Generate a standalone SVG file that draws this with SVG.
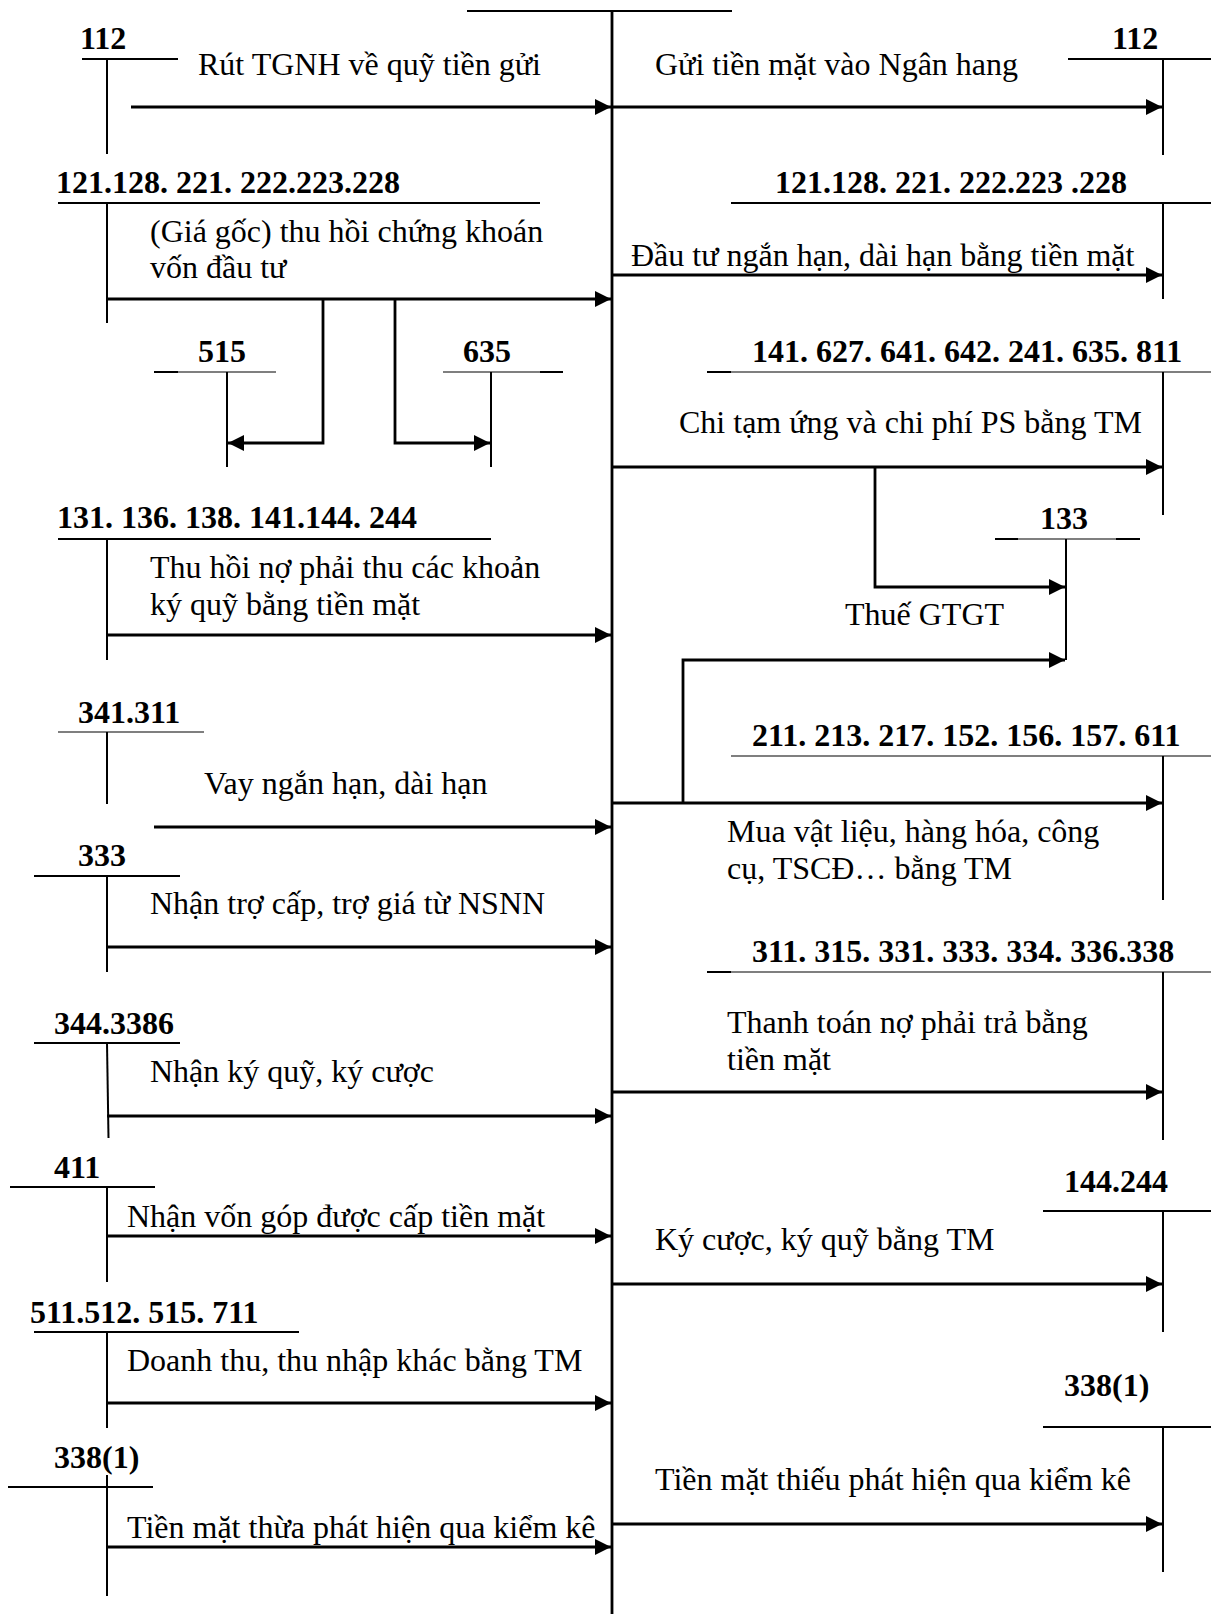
<svg xmlns="http://www.w3.org/2000/svg" width="1211" height="1614" viewBox="0 0 1211 1614">
<style>
text{font-family:"Liberation Serif","Times New Roman",serif;font-size:32px;fill:#000}
.num{font-weight:bold}
.ln{stroke:#000;stroke-width:2;fill:none}
.thin{stroke:#000;stroke-width:1.2;fill:none}
.thk{stroke:#000;stroke-width:2.8;fill:none}
.arr{stroke:#000;stroke-width:2.8;fill:none;marker-end:url(#ah)}
</style>
<defs>
<marker id="ah" markerUnits="userSpaceOnUse" markerWidth="17" markerHeight="16" refX="16" refY="8" orient="auto"><path d="M0,0 L16,8 L0,16 z" fill="#000"/></marker>
</defs>
<rect width="1211" height="1614" fill="#fff"/>

<g id="tk111">
<line class="ln" x1="467" y1="11" x2="732" y2="11"/>
<line class="thk" x1="612" y1="11" x2="612" y2="1614"/>
</g>

<g id="n112L"><text class="num" x="80" y="49">112</text><line class="ln" x1="82" y1="59" x2="178" y2="59"/><line class="ln" x1="107" y1="59" x2="107" y2="154"/></g>
<g id="n112R"><text class="num" x="1112" y="49">112</text><line class="ln" x1="1068" y1="59" x2="1211" y2="59"/><line class="ln" x1="1163" y1="59" x2="1163" y2="155"/></g>
<g id="n121L"><text class="num" x="56" y="193">121.128. 221. 222.223.228</text><line class="ln" x1="58" y1="203" x2="540" y2="203"/><line class="ln" x1="107" y1="203" x2="107" y2="323"/></g>
<g id="n121R"><text class="num" x="775" y="193">121.128. 221. 222.223 .228</text><line class="ln" x1="731" y1="203" x2="1211" y2="203"/><line class="ln" x1="1163" y1="203" x2="1163" y2="299"/></g>
<g id="n515"><text class="num" x="198" y="362">515</text><line class="thin" x1="154" y1="372" x2="276" y2="372"/><line class="ln" x1="154" y1="372" x2="178" y2="372"/><line class="ln" x1="227" y1="372" x2="227" y2="467"/></g>
<g id="n635"><text class="num" x="463" y="362">635</text><line class="thin" x1="443" y1="372" x2="563" y2="372"/><line class="ln" x1="540" y1="372" x2="563" y2="372"/><line class="ln" x1="491" y1="372" x2="491" y2="467"/></g>
<g id="n141R"><text class="num" x="752" y="362">141. 627. 641. 642. 241. 635. 811</text><line class="thin" x1="707" y1="372" x2="1211" y2="372"/><line class="ln" x1="707" y1="372" x2="731" y2="372"/><line class="ln" x1="1163" y1="372" x2="1163" y2="515"/></g>
<g id="n133"><text class="num" x="1040" y="529">133</text><line class="thin" x1="995" y1="539" x2="1140" y2="539"/><line class="ln" x1="995" y1="539" x2="1018" y2="539"/><line class="ln" x1="1116" y1="539" x2="1140" y2="539"/><line class="ln" x1="1066" y1="539" x2="1066" y2="660"/></g>
<g id="n131L"><text class="num" x="57" y="528">131. 136. 138. 141.144. 244</text><line class="ln" x1="58" y1="539" x2="491" y2="539"/><line class="ln" x1="107" y1="539" x2="107" y2="660"/></g>
<g id="n341L"><text class="num" x="78" y="723">341.311</text><line class="thin" x1="58" y1="732" x2="204" y2="732"/><line class="ln" x1="107" y1="732" x2="107" y2="804"/></g>
<g id="n211R"><text class="num" x="752" y="746">211. 213. 217. 152. 156. 157. 611</text><line class="thin" x1="731" y1="756" x2="1211" y2="756"/><line class="ln" x1="1163" y1="756" x2="1163" y2="900"/></g>
<g id="n333L"><text class="num" x="78" y="866">333</text><line class="ln" x1="34" y1="876" x2="180" y2="876"/><line class="ln" x1="107" y1="876" x2="107" y2="972"/></g>
<g id="n311R"><text class="num" x="752" y="962">311. 315. 331. 333. 334. 336.338</text><line class="thin" x1="707" y1="972" x2="1211" y2="972"/><line class="ln" x1="707" y1="972" x2="731" y2="972"/><line class="ln" x1="1163" y1="972" x2="1163" y2="1140"/></g>
<g id="n344L"><text class="num" x="54" y="1034">344.3386</text><line class="ln" x1="34" y1="1043" x2="180" y2="1043"/><line class="ln" x1="107" y1="1043" x2="108.5" y2="1138"/></g>
<g id="n411L"><text class="num" x="54" y="1178">411</text><line class="ln" x1="10" y1="1187" x2="155" y2="1187"/><line class="ln" x1="107" y1="1187" x2="107" y2="1282"/></g>
<g id="n144R"><text class="num" x="1064" y="1192">144.244</text><line class="ln" x1="1043" y1="1211" x2="1211" y2="1211"/><line class="ln" x1="1163" y1="1211" x2="1163" y2="1332"/></g>
<g id="n511L"><text class="num" x="30" y="1323">511.512. 515. 711</text><line class="ln" x1="34" y1="1332" x2="299" y2="1332"/><line class="ln" x1="107" y1="1332" x2="107" y2="1428"/></g>
<g id="n338R"><text class="num" x="1064" y="1396">338(1)</text><line class="ln" x1="1043" y1="1427" x2="1211" y2="1427"/><line class="ln" x1="1163" y1="1427" x2="1163" y2="1572"/></g>
<g id="n338L"><text class="num" x="54" y="1468">338(1)</text><line class="ln" x1="8" y1="1487" x2="153" y2="1487"/><line class="ln" x1="107" y1="1475" x2="107" y2="1596"/></g>

<g id="connectors">
<g><line class="arr" x1="131" y1="107" x2="611" y2="107"/><text x="198" y="75">Rút TGNH về quỹ tiền gửi</text></g>
<g><line class="arr" x1="612" y1="107" x2="1162" y2="107"/><text x="655" y="75">Gửi tiền mặt vào Ngân hang</text></g>
<g><line class="arr" x1="107" y1="299" x2="611" y2="299"/><text x="150" y="242">(Giá gốc) thu hồi chứng khoán</text><text x="150" y="278">vốn đầu tư</text></g>
<polyline class="arr" points="323,299 323,443 228,443"/>
<polyline class="arr" points="395,299 395,443 490,443"/>
<g><line class="arr" x1="612" y1="275" x2="1162" y2="275"/><text x="631" y="266">Đầu tư ngắn hạn, dài hạn bằng tiền mặt</text></g>
<g><line class="arr" x1="612" y1="467" x2="1162" y2="467"/><text x="679" y="433">Chi tạm ứng và chi phí PS bằng TM</text></g>
<polyline class="arr" points="875,467 875,587 1065,587"/>
<g><line class="arr" x1="107" y1="635" x2="611" y2="635"/><text x="150" y="578">Thu hồi nợ phải thu các khoản</text><text x="150" y="615">ký quỹ bằng tiền mặt</text></g>
<g><polyline class="arr" points="683,803 683,660 1065,660"/><text x="845" y="625">Thuế GTGT</text></g>
<g><line class="arr" x1="154" y1="827" x2="611" y2="827"/><text x="204" y="794">Vay ngắn hạn, dài hạn</text></g>
<g><line class="arr" x1="612" y1="803" x2="1162" y2="803"/><text x="727" y="842">Mua vật liệu, hàng hóa, công</text><text x="727" y="879">cụ, TSCĐ… bằng TM</text></g>
<g><line class="arr" x1="107" y1="947" x2="611" y2="947"/><text x="150" y="914">Nhận trợ cấp, trợ giá từ NSNN</text></g>
<g><line class="arr" x1="612" y1="1092" x2="1162" y2="1092"/><text x="727" y="1033">Thanh toán nợ phải trả bằng</text><text x="727" y="1070">tiền mặt</text></g>
<g><line class="arr" x1="107" y1="1116" x2="611" y2="1116"/><text x="150" y="1082">Nhận ký quỹ, ký cược</text></g>
<g><line class="arr" x1="107" y1="1236" x2="611" y2="1236"/><text x="127" y="1227">Nhận vốn góp được cấp tiền mặt</text></g>
<g><line class="arr" x1="612" y1="1284" x2="1162" y2="1284"/><text x="655" y="1250">Ký cược, ký quỹ bằng TM</text></g>
<g><line class="arr" x1="107" y1="1403" x2="611" y2="1403"/><text x="127" y="1371">Doanh thu, thu nhập khác bằng TM</text></g>
<g><line class="arr" x1="612" y1="1524" x2="1162" y2="1524"/><text x="655" y="1490">Tiền mặt thiếu phát hiện qua kiểm kê</text></g>
<g><line class="arr" x1="107" y1="1547" x2="611" y2="1547"/><text x="127" y="1538">Tiền mặt thừa phát hiện qua kiểm kê</text></g>
</g>
</svg>
